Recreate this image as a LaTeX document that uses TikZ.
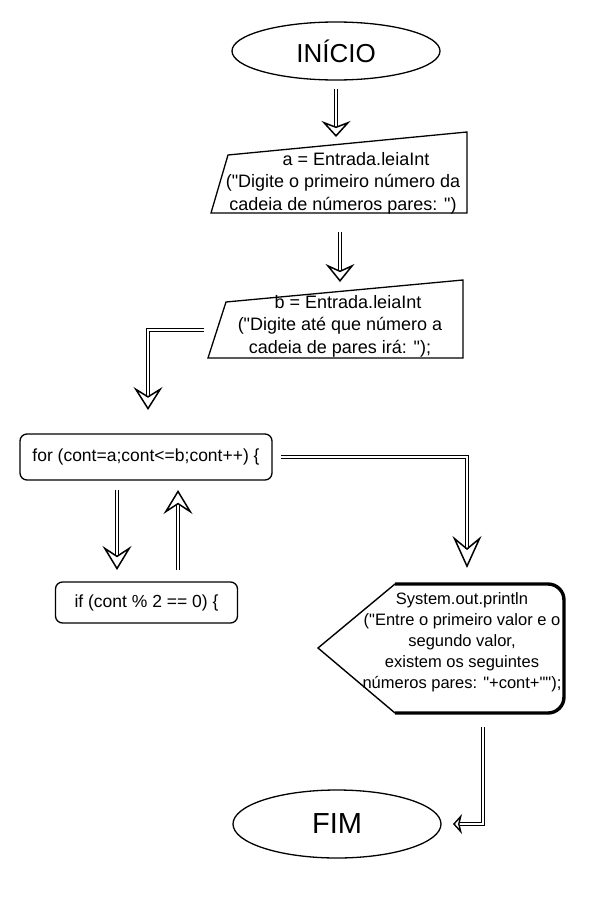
\documentclass[tikz,border=0pt]{standalone}
\usepackage{fontspec}
\setmainfont{Liberation Sans}[Ligatures=TeXOff]
\usetikzlibrary{arrows.meta,shapes.geometric,calc}
\begin{document}
\begin{tikzpicture}[x=1pt,y=-1pt,
  outline/.style={draw, line width=1.3pt, line join=miter},
  term/.style={ellipse, draw, line width=1.3pt, inner sep=0pt, minimum width=208pt},
  procbox/.style={rectangle, rounded corners=7pt, draw, line width=1.3pt, inner sep=0pt, font=\fontsize{17.5}{21}\selectfont},
  txt/.style={align=center, inner sep=0pt, font=\fontsize{18}{22.5}\selectfont},
  disptxt/.style={align=center, inner sep=0pt, font=\fontsize{16.5}{21}\selectfont},
  conn/.style n args={2}{line width=1.1pt, double=white, double distance=2.6pt,
    -{Stealth[open, length=#1, width=29pt, inset=#2, line width=1.5pt]}},
  connsmall/.style={line width=1.1pt, double=white, double distance=2.6pt,
    -{Stealth[open, length=9pt, width=20pt, inset=2.5pt, line width=1.4pt]}}
]
\useasboundingbox[fill=white] (0,0) rectangle (600,900);

% terminals
\node[term, minimum height=58pt, font=\fontsize{26}{30}\selectfont] (ini) at (336,51) {INÍCIO};
\node[term, minimum height=68pt, font=\fontsize{29}{32}\selectfont] (fim) at (337,824) {FIM};

% manual input 1
\coordinate (p1a) at (228,155);
\coordinate (p1b) at (467,132);
\coordinate (p1c) at (467,213);
\coordinate (p1d) at (211,213);
\draw[outline] (p1a) -- (p1b) -- (p1c) -- (p1d) -- cycle;
\node[txt] (t1) at (343,183) {\hspace*{26pt}a = Entrada.leiaInt\\("Digite o primeiro número da\\cadeia de números pares: ")};

% manual input 2
\coordinate (p2a) at (226,302);
\coordinate (p2b) at (463,280);
\coordinate (p2c) at (463,358);
\coordinate (p2d) at (208,358);
\draw[outline] (p2a) -- (p2b) -- (p2c) -- (p2d) -- cycle;
\node[txt] (t2) at (340,326) {\hspace*{16pt}b = Entrada.leiaInt\\("Digite até que número a\\cadeia de pares irá: ");};

% loop boxes
\node[procbox, minimum width=252pt, minimum height=46pt] (for) at (146,457) {for (cont=a;cont<=b;cont++) \{};
\node[procbox, minimum width=182pt, minimum height=41pt] (if) at (146.5,602.5) {if (cont \% 2 == 0) \{};

% display
\coordinate (dl) at (318,648);
\coordinate (dtl) at (395,584);
\coordinate (dtr) at (564,584);
\coordinate (dbr) at (564,713);
\coordinate (dbl) at (395,713);
\draw[line width=1.4pt] (dtl) -- (dl) -- (dbl);
\draw[line width=3.4pt, rounded corners=16pt] (dbl) -- (dbr) -- (dtr) -- (dtl);
\node[disptxt] (disp) at (462,642) {System.out.println\\("Entre o primeiro valor e o\\segundo valor,\\existem os seguintes\\números pares: "+cont+"");};

% connector end points
\coordinate (c1s) at (336,89);
\coordinate (c1e) at (336,137);
\coordinate (c2s) at (340,232);
\coordinate (c2e) at (340,282);
\coordinate (c3s) at (204,330);
\coordinate (c3e) at (148,410);
\coordinate (c4s) at (117,490);
\coordinate (c4e) at (117,570);
\coordinate (c5s) at (178,570);
\coordinate (c5e) at (178,490);
\coordinate (c6s) at (281,457);
\coordinate (c6e) at (467,568);
\coordinate (c7s) at (483,727);
\coordinate (c7e) at (453,824);

% connectors
\draw[conn={16pt}{5.5pt}] (c1s) -- (c1e);
\draw[conn={18pt}{6.5pt}] (c2s) -- (c2e);
\draw[conn={23pt}{9pt}] (c3s) -| (c3e);
\draw[conn={24pt}{9.5pt}] (c4s) -- (c4e);
\draw[conn={24pt}{9.5pt}] (c5s) -- (c5e);
\draw[conn={32pt}{12pt}] (c6s) -| (c6e);
\draw[connsmall] (c7s) |- (c7e);
\end{tikzpicture}
\end{document}
